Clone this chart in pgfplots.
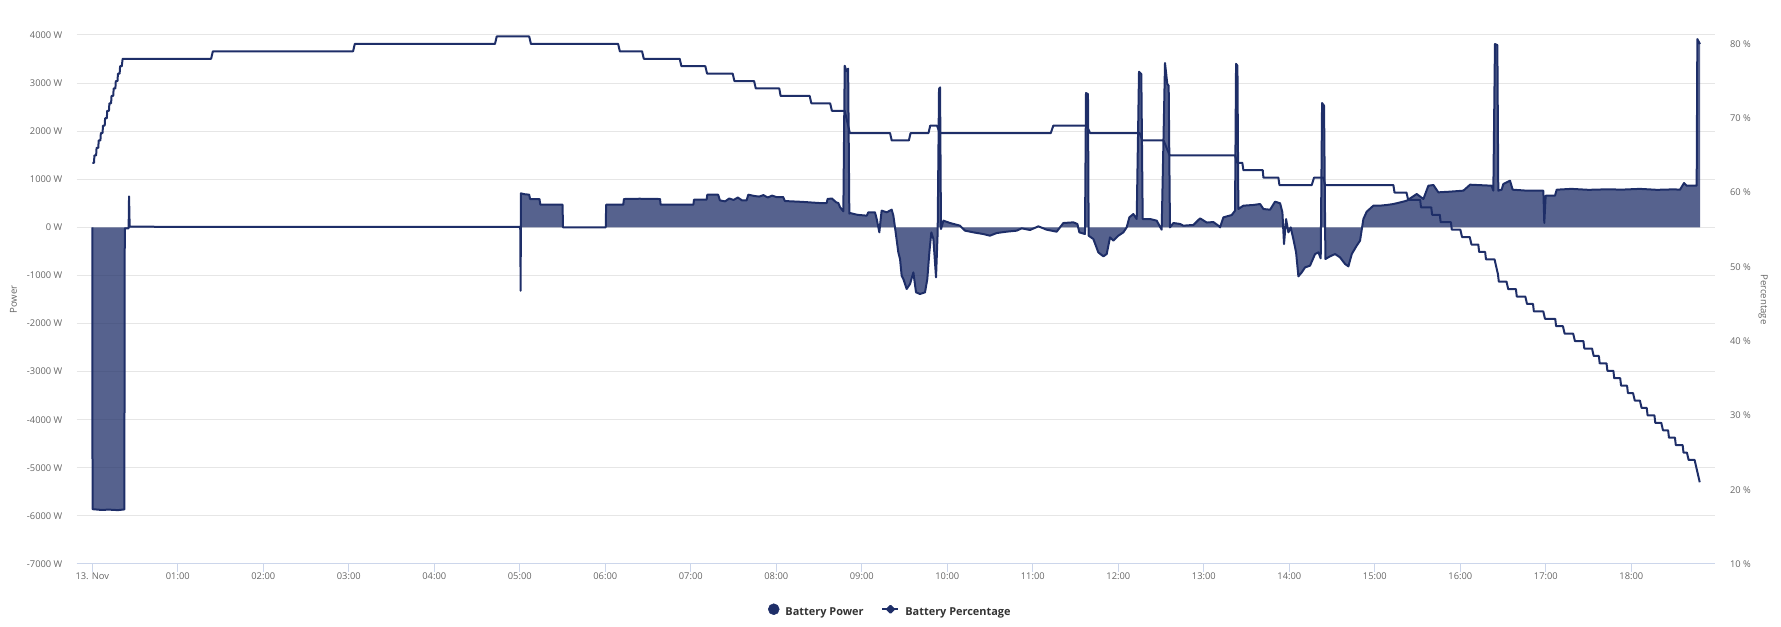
\documentclass[border=0pt]{standalone}
\usepackage{fontspec}
\setmainfont{Open Sans}
\usepackage{pgfplots}
\pgfplotsset{compat=1.18}
\usepackage{pgfplotstable}
\definecolor{navy}{RGB}{30,46,104}
\definecolor{gridc}{RGB}{230,230,230}
\definecolor{axisblue}{RGB}{204,214,235}
\definecolor{lbl}{RGB}{102,102,102}
\definecolor{legtxt}{RGB}{51,51,51}

\pgfplotstableread{
h P
0.000 0
0.003 -5860
0.10 -5875
0.20 -5870
0.30 -5880
0.375 -5865
0.380 -20
0.425 -20
0.430 645
0.437 15
1.0 10
2.0 12
3.0 10
4.0 12
5.005 10
5.010 -1320
5.013 707
5.05 690
5.11 679
5.12 589
5.23 589
5.24 471
5.50 471
5.505 0
6.005 0
6.010 471
6.21 471
6.218 589
6.40 595
6.64 589
6.647 471
7.03 471
7.037 575
7.185 575
7.193 679
7.32 679
7.34 561
7.40 540
7.45 600
7.50 570
7.55 620
7.60 560
7.653 561
7.672 679
7.75 650
7.80 640
7.85 670
7.90 620
7.95 660
8.00 630
8.08 631
8.10 547
8.30 530
8.50 506
8.589 506
8.60 590
8.65 600
8.70 520
8.725 506
8.745 420
8.784 333
8.800 3360
8.820 3250
8.840 3300
8.854 284
8.862 298
8.95 260
9.057 243
9.076 312
9.154 312
9.174 173
9.205 -104
9.221 173
9.232 347
9.291 312
9.349 368
9.369 243
9.388 0
9.427 -520
9.447 -658
9.466 -1005
9.486 -1074
9.525 -1282
9.564 -1178
9.603 -936
9.634 -1351
9.681 -1386
9.739 -1351
9.766 -1074
9.790 -520
9.813 -104
9.837 -243
9.868 -1040
9.887 -104
9.903 2876
9.915 2910
9.926 -35
9.954 139
10.032 90
10.148 35
10.207 -69
10.305 -104
10.421 -139
10.499 -173
10.577 -118
10.694 -90
10.811 -69
10.870 -21
10.967 -55
11.065 21
11.162 -49
11.279 -90
11.357 90
11.474 104
11.521 70
11.544 -104
11.610 -139
11.622 2793
11.645 2772
11.653 -173
11.708 -243
11.766 -520
11.825 -603
11.864 -555
11.903 -208
11.942 -277
12.000 -173
12.059 -104
12.098 0
12.129 208
12.176 277
12.215 173
12.242 3236
12.269 3188
12.285 173
12.371 173
12.449 139
12.507 -49
12.546 3417
12.573 2980
12.589 2945
12.604 0
12.644 90
12.722 70
12.760 35
12.878 50
12.956 187
13.034 100
13.112 110
13.170 35
13.190 0
13.229 208
13.326 256
13.365 347
13.377 3400
13.393 3360
13.404 381
13.463 451
13.580 465
13.658 485
13.697 381
13.775 367
13.833 534
13.892 500
13.919 312
13.938 -347
13.962 173
13.989 -104
14.016 0
14.047 -243
14.079 -520
14.106 -1019
14.145 -936
14.184 -832
14.242 -797
14.301 -555
14.340 -520
14.367 -645
14.383 2585
14.406 2530
14.422 -658
14.476 -603
14.535 -555
14.593 -624
14.652 -762
14.691 -811
14.730 -555
14.788 -381
14.827 -277
14.866 173
14.905 326
14.983 451
15.061 451
15.139 465
15.217 485
15.300 520
15.373 554
15.490 693
15.568 589
15.626 866
15.685 880
15.743 728
15.880 742
16.036 763
16.114 887
16.366 866
16.386 763
16.405 3811
16.433 3790
16.444 763
16.483 783
16.503 901
16.542 936
16.581 970
16.612 783
16.776 763
16.971 763
16.982 90
16.998 659
17.107 659
17.127 783
17.30 800
17.50 780
17.70 790
17.90 785
18.10 800
18.30 780
18.50 790
18.569 783
18.616 922
18.647 866
18.764 866
18.772 3915
18.803 3811
}\powerdata

\pgfplotstableread{
h pct
0.000 64
0.020 64
0.025 65
0.045 65
0.050 66
0.070 66
0.075 67
0.095 67
0.100 68
0.120 68
0.125 69
0.145 69
0.150 70
0.170 70
0.175 71
0.195 71
0.200 72
0.220 72
0.225 73
0.245 73
0.250 74
0.270 74
0.275 75
0.295 75
0.300 76
0.320 76
0.325 77
0.345 77
0.355 78
1.390 78
1.410 79
3.050 79
3.070 80
4.710 80
4.730 81
5.110 81
5.130 80
6.150 80
6.170 79
6.430 79
6.450 78
6.870 78
6.890 77
7.170 77
7.190 76
7.490 76
7.510 75
7.740 75
7.760 74
8.035 74
8.050 73
8.390 73
8.410 72
8.630 72
8.650 71
8.800 71
8.860 68
9.330 68
9.350 67
9.550 67
9.570 68
9.780 68
9.800 69
9.880 69
9.910 68
11.210 68
11.240 69
11.630 69
11.670 68
12.250 68
12.280 67
12.530 67
12.600 65
13.365 65
13.390 64
13.450 64
13.463 63
13.689 63
13.697 62
13.872 62
13.884 61
14.262 61
14.289 62
14.400 62
14.418 61
15.217 61
15.230 60
15.370 60
15.390 59
15.530 59
15.540 58
15.660 58
15.670 57
15.760 57
15.770 56
15.890 56
15.900 55
16.000 55
16.020 54
16.110 54
16.130 53
16.210 53
16.220 52
16.290 52
16.300 51
16.400 51
16.440 49
16.450 48
16.540 48
16.560 47
16.650 47
16.660 46
16.760 46
16.780 45
16.850 45
16.860 44
16.970 44
16.990 43
17.110 43
17.120 42
17.200 42
17.220 41
17.320 41
17.340 40
17.440 40
17.450 39
17.540 39
17.560 38
17.620 38
17.630 37
17.710 37
17.720 36
17.790 36
17.800 35
17.870 35
17.880 34
17.950 34
17.960 33
18.020 33
18.040 32
18.100 32
18.120 31
18.180 31
18.190 30
18.270 30
18.280 29
18.350 29
18.370 28
18.430 28
18.440 27
18.510 27
18.520 26
18.600 26
18.610 25
18.650 25
18.670 24
18.740 24
18.800 21
}\pctdata

\begin{document}
\begin{tikzpicture}
\useasboundingbox (-57.45pt,-47.25pt) rectangle (1278.3pt,423pt);
\begin{axis}[
  at={(0,0)}, anchor=south west,
  scale only axis, width=1228.9pt, height=396.75pt,
  xmin=-0.1835, xmax=18.98,
  ymin=-7000, ymax=4000,
  axis x line*=bottom, axis y line*=left,
  x axis line style={draw=axisblue, line width=0.75pt, -},
  y axis line style={draw=none},
  xtick={0,1,...,18},
  xticklabels={13. Nov,01:00,02:00,03:00,04:00,05:00,06:00,07:00,08:00,09:00,10:00,11:00,12:00,13:00,14:00,15:00,16:00,17:00,18:00},
  ytick={-7000,-6000,...,4000},
  yticklabels={-7000 W,-6000 W,-5000 W,-4000 W,-3000 W,-2000 W,-1000 W,0 W,1000 W,2000 W,3000 W,4000 W},
  ymajorgrids, major grid style={draw=gridc, line width=0.75pt},
  xtick style={draw=axisblue, line width=0.75pt},
  ytick style={draw=none},
  tick align=outside, major tick length=6pt,
  tick label style={font=\fontsize{7.0}{8.4}\selectfont, text=lbl},
  xticklabel style={inner sep=0pt, anchor=center, yshift=-3pt},
  yticklabel style={inner sep=0pt, anchor=east, xshift=-4.5pt},
  every axis y label/.style={at={(axis description cs:0,0.5)}, xshift=-47.25pt, rotate=90, anchor=center, font=\fontsize{7.2}{8.6}\selectfont, text=lbl},
  ylabel={Power},
]
\addplot[draw=none, fill=navy, fill opacity=0.75] table[x=h, y=P] {\powerdata} \closedcycle;
\addplot[navy, line width=1.5pt, line join=round] table[x=h, y=P] {\powerdata};
\end{axis}
\begin{axis}[
  at={(0,0)}, anchor=south west,
  scale only axis, width=1228.9pt, height=396.75pt,
  xmin=-0.1835, xmax=18.98,
  ymin=10, ymax=81.2,
  axis x line=none, axis y line*=right,
  y axis line style={draw=none},
  ytick={10,20,...,80},
  yticklabels={10 \%,20 \%,30 \%,40 \%,50 \%,60 \%,70 \%,80 \%},
  ytick style={draw=none},
  tick label style={font=\fontsize{7.0}{8.4}\selectfont, text=lbl},
  yticklabel style={inner sep=0pt, anchor=west, xshift=11pt},
  every axis y label/.style={at={(axis description cs:1,0.5)}, xshift=36pt, rotate=-90, anchor=center, font=\fontsize{7.2}{8.6}\selectfont, text=lbl},
  ylabel={Percentage},
  legend columns=2,
  legend style={draw=none, fill=none, at={(axis description cs:0.496,-0.088)}, anchor=center,
    font=\bfseries\fontsize{8.2}{9.8}\selectfont, text=legtxt,
    nodes={inner sep=0pt},
    /tikz/every odd column/.append style={column sep=4.5pt},
    /tikz/every even column/.append style={column sep=13.5pt}},
  legend cell align=left,
]
\addlegendimage{legend image code/.code={\fill[navy] (4.1pt,2.6pt) circle (4.1pt);}}
\addlegendentry{Battery Power}
\addplot[navy, line width=1.5pt, line join=round,
  legend image code/.code={\draw[navy, line width=1.3pt] (0pt,2.6pt) -- (12pt,2.6pt); \fill[navy] (6pt,5.2pt) -- (8.6pt,2.6pt) -- (6pt,0pt) -- (3.4pt,2.6pt) -- cycle;}] table[x=h, y=pct] {\pctdata};
\addlegendentry{Battery Percentage}
\end{axis}
\end{tikzpicture}
\end{document}
